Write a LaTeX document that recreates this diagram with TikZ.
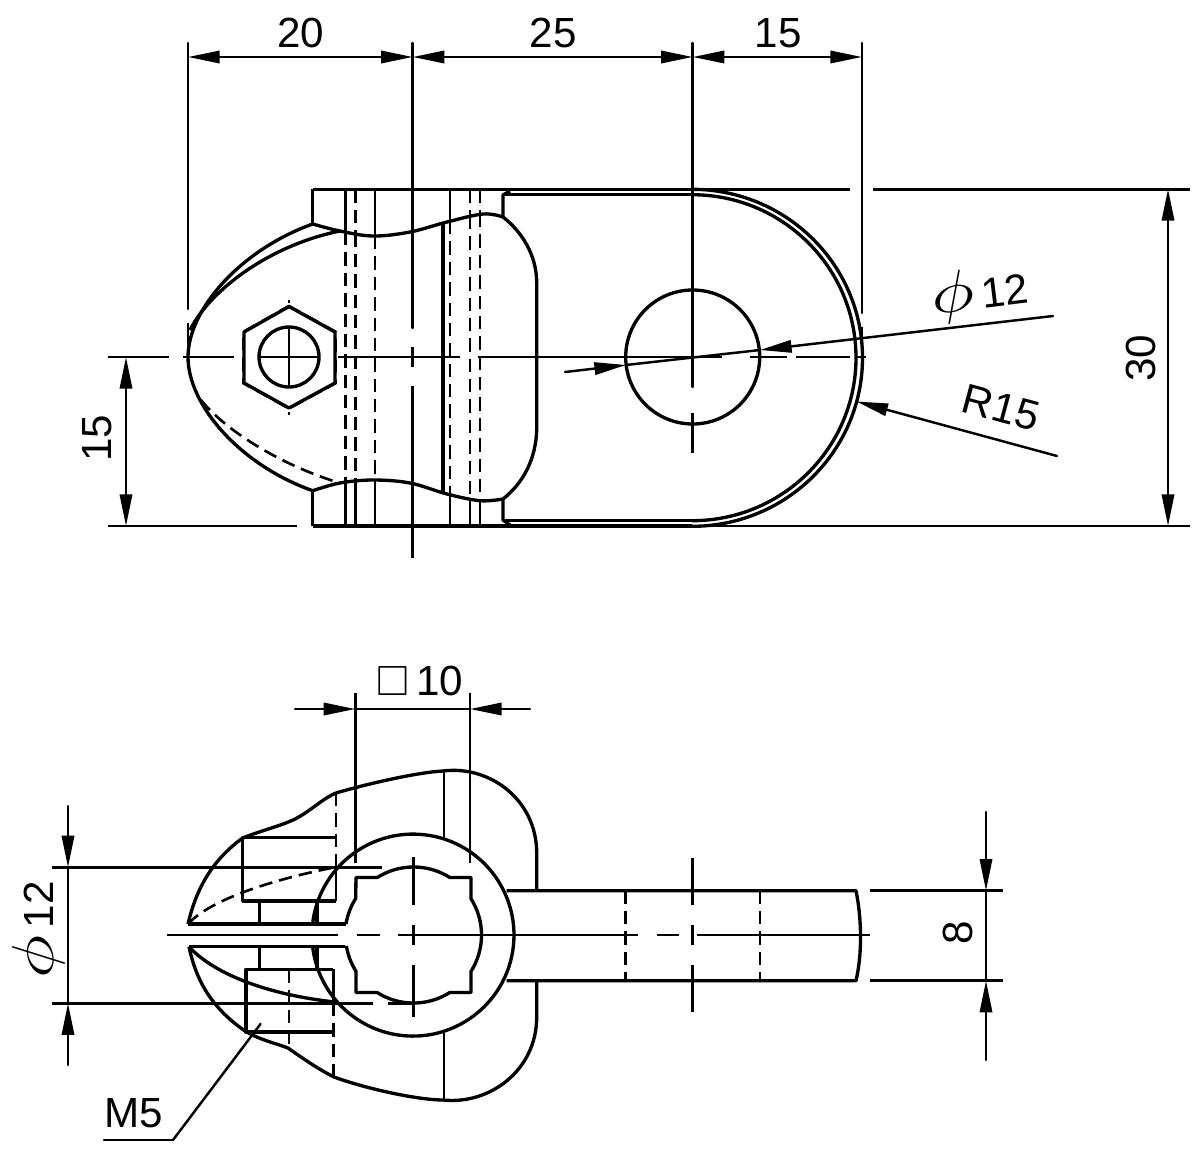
\documentclass[tikz,border=0pt]{standalone}
\usepackage{amsmath, amssymb, fontspec, tkz-euclide}
\usetikzlibrary{arrows.meta}
\setmainfont{Liberation Sans}
\newcommand{\diamsym}{\scalebox{1.7}[1.35]{$\phi$}}
\tikzset{>={Stealth[inset=0pt,length=18pt,width=7pt]},
  objline/.style={line width=1.9pt,line join=round},
  thinline/.style={line width=1.4pt},
  hidline/.style={line width=1.5pt,dash pattern=on 7.6pt off 4pt},
  dimtext/.style={inner sep=0pt,font=\fontsize{24}{28}\selectfont}}

\begin{document}
\begin{tikzpicture}[x=0.02cm,y=-0.02cm]
    \useasboundingbox (0,0) rectangle (1200,1157);
    % upper view, dimensions
    \tkzDefPoints{188/43/E1, 188/309/E2, 412.7/43/E3, 412.7/328/E4, 692.7/43/E5, 692.7/387/E6, 862/43/E7, 862/313/E8}
    \tkzDefPoints{188/57/A, 412.7/57/B, 692.7/57/C, 862/57/D}
    \tkzDefPoints{1168/189/F, 1168/526/G, 126/357/H, 126/526/I}
    \tkzDefPoints{565/372/J, 626/365/K, 760/350/L, 1053/316/M, 1057/456/N, 856.5/401.5/O}
    \tkzDrawSegments[thinline](E1,E2 E3,E4 E5,E6 E7,E8)
    \tkzDrawSegments[thinline,<->](A,B B,C C,D F,G H,I)
    \tkzDrawSegment[thinline,->](J,K)
    \tkzDrawSegment[thinline,->](M,L)
    \tkzDrawSegment[thinline](K,L)
    \tkzDrawSegment[thinline,->](N,O)
    \node[dimtext] (dimA) at (301,33) {20};
    \node[dimtext] (dimB) at (553,33) {25};
    \node[dimtext] (dimC) at (778,33) {15};
    \node[dimtext,rotate=90] (dimD) at (1141,358) {30};
    \node[dimtext,rotate=90] (dimE) at (97.5,438) {15};
    \node[dimtext,rotate=7] (dimF) at (980,294) {\diamsym\,12};
    \node[dimtext,rotate=-15] (dimG) at (1001,408) {R15};
    % centre lines and extensions
    \foreach \xa/\ya/\xb/\yb in {108/357/169/357, 183/357/234/357, 338/357/460/357, 478/357/722/357,
        750/357/787/357, 796/357/850/357, 857/357/866/357, 188/323/188/345, 862/327/862/345,
        412.7/347/412.7/367, 412.7/386/412.7/558, 692.7/413/692.7/453,
        692/189.3/850/189.3, 873/189.3/1190/189.3, 108/526/297/526, 692/526/1190/526,
        289/300/289/303, 289/412/289/415}
      \draw[thinline] (\xa,\ya) -- (\xb,\yb);
    % upper view, outline
    \draw[objline] (312.7,189.3) -- (692,189.3) (503,194.7) -- (692,194.7) (503,520.5) -- (692,520.5) (312.7,526) -- (692,526);
    \draw[objline] (312.7,189.3) -- (312.7,224) (312.7,526) -- (312.7,490.7);
    \draw[objline] (510,191) -- (503,195) -- (503,217) (510,525) -- (503,520) -- (503,499);
    \draw[objline] (692,189.3) arc[start angle=-90,end angle=90,x radius=170.5,y radius=168.5];
    \draw[objline] (692,194.7) arc[start angle=-90,end angle=90,x radius=164,y radius=163];
    \draw[objline] (188,357) .. controls (188,310) and (240,250) .. (312.7,224);
    \draw[objline] (188,357) .. controls (188,405) and (240,465) .. (312.7,490.7);
    \draw[objline] (190,330) .. controls (210,290) and (270,245) .. (340,231);
    \draw[hidline] (201,400) .. controls (225,430) and (280,465) .. (340,483);
    \draw[objline] plot[smooth,tension=.6] coordinates {(312.7,224) (340,231) (373,236) (410,232) (447,222) (483,214) (503,217)};
    \draw[objline] plot[smooth,tension=.6] coordinates {(312.7,490.7) (340,483) (373,480) (410,483) (447,494) (480,500.7) (503,499)};
    \draw[objline] (503,217) .. controls (522,232) and (536.7,255) .. (536.7,283) -- (536.7,427)
        .. controls (536.7,460) and (522,484) .. (503,499);
    \draw[objline] (443,222) -- (443,493);
    \foreach \xv/\yt/\yb in {345.3/232/482, 355.3/233.5/481, 375/236/480, 450/221/495, 470/216/499, 480/214/501}
      \draw[hidline] (\xv,\yt) -- (\xv,\yb);
    \foreach \xv/\yt/\yb in {345.3/232/482, 375/236/480, 450/221/495}
      \draw[thinline] (\xv,189.3) -- (\xv,\yt);
    \foreach \xv/\yt/\yb in {355.3/233.5/481, 470/216/499, 480/214/501}
      \draw[hidline] (\xv,189.3) -- (\xv,\yt);
    \foreach \xv/\yb in {345.3/482, 355.3/481, 375/480, 450/495, 470/499, 480/501}
      \draw[thinline] (\xv,\yb) -- (\xv,526);
    % nut and hole
    \draw[objline] (289,306.5) -- (335,332) -- (335,383) -- (289,408) -- (244,383) -- (244,332) -- cycle;
    \draw[hidline,line width=1pt] (289,305.5) -- (336,331.5) -- (336,383.5) -- (289,409) -- (243,383.5) -- (243,331.5) -- cycle;
    \draw[objline] (289,357) circle[radius=30];
    \draw[thinline] (259,357) -- (319,357) (289,327) -- (289,387);
    \draw[objline] (692.7,357) circle[radius=67];
    % lower view, dimensions
    \tkzDefPoints{68/806/P, 68/867.3/Q, 68/1003.3/R, 68/1065/S}
    \tkzDefPoints{986/812/T, 986/890.7/U, 986/980.7/V, 986/1060/W}
    \tkzDefPoints{295/709/X, 355.3/709/Y, 470/709/Z, 530/709/a}
    \tkzDefPoints{104/1140/b, 173/1140/c, 260.5/1024/d}
    \tkzDrawSegments[thinline,->](P,Q S,R T,U W,V X,Y a,Z)
    \tkzDrawSegments[thinline](Q,R U,V Y,Z b,c c,d)
    \node[dimtext,rotate=90] (dimH) at (39,930) {\diamsym\,12};
    \node[dimtext,rotate=90] (dimI) at (958,933) {8};
    \node[dimtext] (dimJ) at (420,681) {$\square$\,10};
    \node[dimtext] (dimK) at (134,1113) {M5};
    \foreach \xa/\ya/\xb/\yb in {52/867.3/381.7/867.3, 52/1003.3/373/1003.3, 388/1003.3/413/1003.3,
        870/890.7/1003/890.7, 870/980.7/1003/980.7, 355.3/693/355.3/863, 470/693/470/863,
        167/935/338/935, 357/935/380/935, 398/935/638/935, 657/935/679/935, 697/935/870/935,
        413.3/857/413.3/905, 413.3/925/413.3/945, 413.3/965/413.3/1017,
        692.7/858/692.7/905, 692.7/925/692.7/945, 692.7/965/692.7/1012}
      \draw[thinline] (\xa,\ya) -- (\xb,\yb);
    % lower view, outline
    \draw[objline] (188,924) .. controls (197,885) and (215,858) .. (242.7,838)
        .. controls (260,831) and (280,826) .. (293,820) .. controls (310,812) and (320,800) .. (336,793)
        .. controls (370,783) and (420,772) .. (443,771) .. controls (490,765) and (536.7,800) .. (536.7,853) -- (536.7,890.7);
    \draw[objline] (189,946.7) .. controls (197,985) and (215,1010) .. (245,1031)
        .. controls (260,1040) and (275,1043) .. (288,1048) .. controls (305,1060) and (320,1070) .. (334,1077)
        .. controls (370,1090) and (420,1100) .. (443,1100) .. controls (490,1105) and (536.7,1070) .. (536.7,1017) -- (536.7,980.7);
    \draw[objline] (312.6,924) arc[start angle=186.3,end angle=533.7,radius=101];
    \draw[objline] (188,924) -- (346,924) (189,946.7) -- (345,946.7);
    \draw[objline] (346,924) arc[start angle=189.2,end angle=212.3,radius=68] -- (356,877.5) -- (377.2,877.5)
        arc[start angle=237.7,end angle=302.3,radius=68] -- (471,877.5) -- (471,898.7)
        arc[start angle=327.7,end angle=392.3,radius=68] -- (471,992.5) -- (449.8,992.5)
        arc[start angle=57.7,end angle=122.3,radius=68] -- (356,992.5) -- (356,971.3)
        arc[start angle=147.7,end angle=170.8,radius=68];
    \draw[objline] (506.7,890.7) -- (856,890.7) .. controls (861,915) and (863,950) .. (856,980.7) -- (506.7,980.7);
    \foreach \xv in {625.3,760}
      \draw[hidline] (\xv,890.7) -- (\xv,980.7);
    % screw and nut
    \draw[objline] (336,837.7) -- (242.7,837.7) -- (242.7,901) -- (336,901);
    \draw[hidline] (336,793) -- (336,867);
    \draw[thinline] (336,867) -- (336,901);
    \draw[objline] (333.3,969.3) -- (246,969.3) -- (246,1032) -- (333.3,1032);
    \draw[thinline] (333.3,969.3) -- (333.3,1003);
    \draw[hidline] (333.3,1003) -- (333.3,1077);
    \draw[hidline] (289,969.3) -- (289,1048);
    \draw[thinline] (259.3,901) -- (259.3,924) (259.3,946.7) -- (259.3,969.3);
    \draw[objline] (317,901) -- (317,924) (317,946.7) -- (317,969.3);
    \draw[hidline] (188,924) .. controls (210,900) and (270,880) .. (336,867);
    \draw[objline] (189,946.7) .. controls (215,975) and (270,995) .. (335,1002);
    \draw[thinline] (444,771) -- (444,838) (444,1033) -- (444,1100);
\end{tikzpicture}
\end{document}
